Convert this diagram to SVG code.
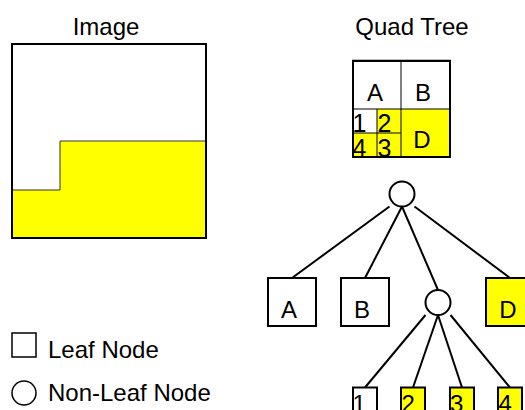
<svg xmlns="http://www.w3.org/2000/svg" width="525" height="410" viewBox="0 0 525 410">
<style>
text{font-family:"Liberation Sans",Arial,sans-serif;font-size:24px;fill:#000}
.m{text-anchor:middle}
.d{font-size:25px}
.box{fill:#fff;stroke:#000;stroke-width:2}
.yb{fill:#ffff00;stroke:#000;stroke-width:2}
.node{fill:#fff;stroke:#000;stroke-width:2}
.edge{stroke:#000;stroke-width:2;fill:none}
.thin{stroke:#000;stroke-width:1;fill:none}
</style>
<rect width="525" height="410" fill="#fff"/>

<g id="image-panel">
  <text class="m" x="106" y="35">Image</text>
  <rect x="12" y="44" width="194" height="194" fill="#fff" stroke="none"/>
  <polygon points="12,190 60,190 60,141 206,141 206,238 12,238" fill="#ffff00" stroke="#333" stroke-width="1"/>
  <rect x="12" y="44" width="194" height="194" fill="none" stroke="#000" stroke-width="2"/>
</g>

<g id="quad-panel">
  <text class="m" x="412" y="35">Quad Tree</text>
  <line x1="352" y1="59.5" x2="451" y2="59.5" stroke="#bbb" stroke-width="1"/>
  <rect x="353" y="61" width="97" height="96" fill="#fff"/>
  <rect x="353" y="109" width="97" height="48" fill="#ffff00"/>
  <rect x="353" y="109" width="24" height="24" fill="#fff"/>
  <line class="thin" x1="401" y1="61" x2="401" y2="157"/>
  <line class="thin" x1="353" y1="109" x2="450" y2="109"/>
  <line class="thin" x1="377" y1="109" x2="377" y2="157"/>
  <line class="thin" x1="353" y1="133" x2="401" y2="133"/>
  <rect x="353" y="61" width="97" height="96" fill="none" stroke="#000" stroke-width="2"/>
  <text class="m" x="375" y="101">A</text>
  <text class="m" x="423" y="101">B</text>
  <text class="m" x="422" y="148">D</text>
  <text class="d" x="352.5" y="131.5">1</text>
  <text class="d" x="377.5" y="131.5">2</text>
  <text class="d" x="352.5" y="156.5">4</text>
  <text class="d" x="377.5" y="156.5">3</text>
</g>

<g id="connectors">
  <line class="edge" x1="389.5" y1="206.5" x2="292" y2="278"/>
  <line class="edge" x1="402" y1="206.5" x2="365" y2="278"/>
  <line class="edge" x1="402" y1="206.5" x2="438" y2="290"/>
  <line class="edge" x1="414.5" y1="206.5" x2="510" y2="278"/>
  <line class="edge" x1="425.5" y1="315" x2="365" y2="387.5"/>
  <line class="edge" x1="438" y1="315" x2="413" y2="387.5"/>
  <line class="edge" x1="438" y1="315" x2="462" y2="387.5"/>
  <line class="edge" x1="450.5" y1="315" x2="510" y2="387.5"/>
</g>

<g id="root"><circle class="node" cx="402" cy="194" r="12.5"/></g>
<g id="node-A"><rect class="box" x="268" y="278" width="48" height="48"/><text class="m" x="289" y="318">A</text></g>
<g id="node-B"><rect class="box" x="341" y="278" width="48" height="48"/><text class="m" x="362" y="318">B</text></g>
<g id="node-C"><circle class="node" cx="438" cy="302.5" r="12.5"/></g>
<g id="node-D"><rect class="yb" x="486" y="278" width="48" height="48"/><text class="m" x="508" y="318">D</text></g>
<g id="node-1"><rect class="box" x="353" y="387.5" width="24" height="30"/><text x="352.5" y="412">1</text></g>
<g id="node-2"><rect class="yb" x="401" y="387.5" width="24" height="30"/><text x="401.5" y="412">2</text></g>
<g id="node-3"><rect class="yb" x="450" y="387.5" width="24" height="30"/><text x="450" y="412">3</text></g>
<g id="node-4"><rect class="yb" x="498" y="387.5" width="24" height="30"/><text x="498.5" y="412">4</text></g>

<g id="legend">
  <rect x="12" y="333" width="24" height="24" fill="#fff" stroke="#000" stroke-width="1.5"/>
  <text x="48" y="358">Leaf Node</text>
  <circle cx="24" cy="393" r="12" fill="#fff" stroke="#000" stroke-width="1.5"/>
  <text x="48" y="401">Non-Leaf Node</text>
</g>
</svg>
